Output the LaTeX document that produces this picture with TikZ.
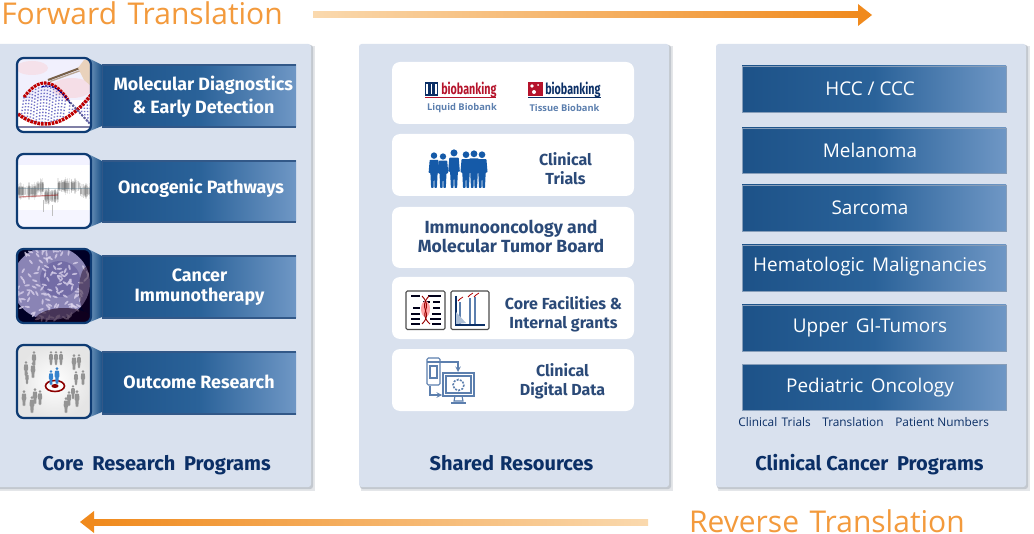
\documentclass[tikz,border=0pt]{standalone}
\usepackage{fontspec}
\usepackage{graphicx}
\setmainfont{Open Sans}
\newfontfamily\hdfam{Fira Sans}
\usetikzlibrary{calc,shadings}
\definecolor{panel}{HTML}{D9E1EE}
\definecolor{shad}{HTML}{C3C8CF}
\definecolor{navy}{HTML}{0B2F66}
\definecolor{frameb}{HTML}{0E3B73}
\definecolor{bdark}{HTML}{1D5288}
\definecolor{bmid}{HTML}{2A6299}
\definecolor{blight}{HTML}{6F97C5}
\definecolor{org}{HTML}{F08A1D}
\definecolor{orgl}{HTML}{FAD9AE}
\definecolor{orgt}{HTML}{F39A3C}
\definecolor{slate}{HTML}{2B4A78}
\definecolor{icon}{HTML}{5C7FAE}
\definecolor{peop}{HTML}{155AA8}
\definecolor{logored}{HTML}{B5132B}
\definecolor{cellbase}{HTML}{8A84B5}
\definecolor{cellmid}{HTML}{736CA6}
\definecolor{cellflake}{HTML}{DDD5EE}
\newcommand{\fs}[1]{\fontsize{#1}{#1}\selectfont}
\tikzset{
  x=0.75pt,y=-0.75pt,
  panelbox/.style={fill=panel,draw=none,rounded corners=2pt},
  shadowbox/.style={fill=shad,draw=none,rounded corners=2pt},
  banner/.style={left color=bdark,right color=blight,middle color=bmid,draw=none},
  bannerline/.style={draw=frameb!85,line width=0.8pt},
  whitebox/.style={fill=white,draw=none,rounded corners=6pt},
  thumbframe/.style={draw=frameb,line width=1.7pt,rounded corners=5pt},
  bantext/.style={text=white,font=\hdfam\bfseries\fs{13.4},align=center,inner sep=0pt},
  righttext/.style={text=white,font=\fs{14.2},align=center,inner sep=0pt,anchor=base},
  midtext/.style={text=slate,font=\hdfam\bfseries\fs{12},align=center,inner sep=0pt},
  midbig/.style={text=slate,font=\hdfam\bfseries\fs{13.2},align=center,inner sep=0pt},
  paneltitle/.style={text=navy,font=\hdfam\bfseries\fs{15},inner sep=0pt,anchor=base},
  arrowtitle/.style={text=orgt,font=\fs{22.5},inner sep=0pt},
  small/.style={text=navy,font=\fs{8.9},inner sep=0pt},
  logotext/.style={font=\hdfam\bfseries\fs{11.5},inner sep=0pt},
  logosub/.style={text=icon,font=\bfseries\fs{7},inner sep=0pt},
  iconline/.style={draw=icon,line width=0.8pt,fill=none},
}
% person: x, y (feet centre), height, colour
\newcommand{\persona}[4]{%
  \fill[#4] (#1,#2-#3*0.9) circle[radius=#3*0.09];
  \fill[#4,rounded corners=0.5pt] (#1-#3*0.12,#2-#3*0.78) -- (#1+#3*0.12,#2-#3*0.78)
    -- (#1+#3*0.15,#2-#3*0.42) -- (#1+#3*0.1,#2-#3*0.42) -- (#1+#3*0.08,#2) -- (#1+#3*0.015,#2)
    -- (#1,#2-#3*0.38) -- (#1-#3*0.015,#2) -- (#1-#3*0.08,#2) -- (#1-#3*0.1,#2-#3*0.42)
    -- (#1-#3*0.15,#2-#3*0.42) -- cycle;
}
\begin{document}
\begin{tikzpicture}
\useasboundingbox (0,0) rectangle (1034,534);
\fill[white] (0,0) rectangle (1034,534);

% ---------- panels
\foreach \a/\b in {-4/311,359/669,716/1026}{
  \fill[shad!45] (\a+2,46) rectangle (\b+3.5,490.5);
  \fill[shadowbox] (\a+1,45) rectangle (\b+2,489);
}
\path[panelbox] (-4,44) rectangle (311,487);
\path[panelbox] (359,44) rectangle (669,487);
\path[panelbox] (716,44) rectangle (1026,487);

% ---------- arrows
\node[arrowtitle,anchor=base west] (ftitle) at (1,24.5) {Forward\hspace{2pt} Translation};
\coordinate (fs) at (313,15);
\coordinate (fe) at (872,15);
\path[left color=orgl,right color=org] ($(fs)+(0,-3)$) rectangle ($(fe)+(-14,3)$);
\fill[org] ($(fe)+(-14,-11)$) -- (fe) -- ($(fe)+(-14,11)$) -- cycle;

\node[arrowtitle,anchor=base east] (rtitle) at (965,532.5) {Reverse\hspace{2pt} Translation};
\coordinate (rs) at (648,522);
\coordinate (re) at (80,522);
\path[left color=org,right color=orgl] ($(re)+(14,-3)$) rectangle ($(rs)+(0,3)$);
\fill[org] ($(re)+(14,-11)$) -- (re) -- ($(re)+(14,11)$) -- cycle;

% ---------- left column banners
\foreach \yt/\yb in {65/127,161/222,256/318,352/414}{
  \path[banner] (102,\yt) rectangle (296,\yb);
  \draw[bannerline] (102,\yt) -- (296,\yt);
  \draw[bannerline] (102,\yb) -- (296,\yb);
  \draw[bannerline,line width=0.5pt] (102.5,\yt) -- (102.5,\yb);
}
\foreach \t/\b in {58/132,154/228,249/323,345/418}{
  \path[left color=bmid!70!white,right color=bdark] (90,\t+1) -- (102,\t+7) -- (102,\b-6) -- (90,\b-1) -- cycle;
}
\node[bantext] (b1) at (203.5,97) {Molecular Diagnostics\\[2.5pt]\&\ Early Detection};
\node[bantext] (b2) at (201,188) {Oncogenic Pathways};
\node[bantext] (b3) at (199.5,287.5) {Cancer\\[1.5pt]Immunotherapy};
\node[bantext] (b4) at (199,381.5) {Outcome Research};

% thumb 1: DNA
\begin{scope}
\clip[rounded corners=5pt] (17,58) rectangle (91,132);
\fill[white] (17,58) rectangle (91,132);
\fill[red!10!blue!6!white] (17,58) rectangle (91,100);
\fill[red!25!white,opacity=.3] (32,68) ellipse (16 and 7);
\fill[red!25!white,opacity=.35] (72,88) ellipse (20 and 10);
\foreach \xx in {24,27,...,68}{
  \pgfmathsetmacro\ya{83+0.032*(\xx-45)*(\xx-45)}
  \pgfmathsetmacro\yb{124-0.0137*(\xx-45)*(\xx-45)}
  \draw[blue!60!black!55,line width=1.1pt,dash pattern=on 1pt off 1.4pt] (\xx,\ya) -- (\xx-3,\yb);
}
\foreach \xx in {70,73,...,91}{
  \pgfmathsetmacro\ya{100+(\xx-68)*1.09}
  \pgfmathsetmacro\yb{124-0.0137*(\xx-45)*(\xx-45)}
  \draw[blue!60!black!55,line width=1.1pt,dash pattern=on 1pt off 1.4pt] (\xx,\ya) -- (\xx-1,\yb);
}
\draw[red!75!black,line width=2.3pt,dash pattern=on 2pt off .7pt] plot[domain=24:68,samples=30] (\x,{83+0.032*(\x-45)*(\x-45)});
\draw[blue!55!black,line width=1pt,dash pattern=on 1.5pt off 1pt] plot[domain=40:68,samples=20] (\x+2,{86+0.032*(\x-45)*(\x-45)});
\draw[red!75!black,line width=2.6pt,dash pattern=on 2pt off .7pt] plot[domain=18:91,samples=40] (\x,{124-0.0137*(\x-45)*(\x-45)});
\draw[white!60!blue!60!black,line width=1.5pt,dash pattern=on 1.5pt off 1pt] (68,100) -- (91,125);
\fill[blue!30!black!50] (17,126) rectangle (91,128);
\fill[white,opacity=.7] (17,128) rectangle (91,132);
\draw[black!55!brown!80,line width=1.5pt] (48,80) -- (80,68);
\draw[black!40!brown!50,line width=1pt] (50,81.5) -- (82,70);
\fill[brown!35!white] (78,68) -- (84,60) -- (91,60) -- (91,86) -- (84,80) -- cycle;
\end{scope}
\draw[thumbframe] (17,58) rectangle (91,132);

% thumb 2: gel trace
\begin{scope}
\clip[rounded corners=5pt] (17,154) rectangle (91,228);
\fill[white] (17,154) rectangle (91,228);
\fill[blue!5!white] (17,154) rectangle (91,165);
\fill[blue!4!white] (17,210) rectangle (91,228);
\pgfmathsetseed{11}
\foreach \i in {1,...,320}{
  \pgfmathsetmacro\xx{18+rnd*73}
  \pgfmathsetmacro\cyy{\xx<37?191:(\xx<44?187:(\xx<58?196:(\xx<80?186:191)))}
  \pgfmathsetmacro\hh{3+abs(rand)*abs(rand)*7}
  \draw[black!60,opacity=.13,line width=1.1pt] (\xx,\cyy-\hh) -- (\xx,\cyy+\hh);
}
\draw[cyan!50!black,opacity=.35,line width=.5pt] (19,188) -- (91,188);
\draw[red!60!black,opacity=.45,line width=.9pt] (19,197) -- (58,195);
\draw[black!25,line width=.3pt] (43,200) -- (43,212) (52,205) -- (52,216);
\end{scope}
\draw[thumbframe] (17,154) rectangle (91,228);

% thumb 3: cell
\begin{scope}
\clip[rounded corners=5pt] (17,249) rectangle (91,323);
\fill[black!85!blue] (17,249) rectangle (91,323);
\fill[cellbase] (51,283) ellipse (39 and 37);
\fill[cellmid] (60,279) ellipse (20 and 18);
\pgfmathsetseed{7}
\foreach \i in {1,...,130}{
  \pgfmathsetmacro\ang{rnd*360}
  \pgfmathsetmacro\rr{sqrt(rnd)*39}
  \pgfmathsetmacro\rot{rnd*180}
  \pgfmathsetmacro\cx{51+\rr*cos(\ang)}
  \pgfmathsetmacro\cy{283+\rr*sin(\ang)}
  \fill[cellflake,opacity=.75] (\cx,\cy) ellipse[x radius=2.8,y radius=1,rotate=\rot];
}
\fill[black!80!violet,opacity=.6] (64,322) ellipse (30 and 14);
\fill[black!80!violet,opacity=.45] (88,290) ellipse (9 and 24);
\end{scope}
\draw[thumbframe] (17,249) rectangle (91,323);

% thumb 4: crowd
\begin{scope}
\clip[rounded corners=5pt] (17,345) rectangle (91,418);
\shade[inner color=white,outer color=black!10] (17,345) rectangle (91,418);
\foreach \px/\py/\ph in {34/366/15,51/365/14,56/365/14,61/365/14,74/370/16,79/368/14,26/376/15,33/378/16,27/384/12,24/406/16,35/404/16,32/413/17,40/405/15,66/413/16,73/399/14,69/406/15,77/407/17,76/385/14,83/385/15}{
  \persona{\px}{\py}{\ph}{black!42}
}
\draw[red!55!black,line width=1.2pt,fill=white] (55,386) ellipse (9.5 and 5.5);
\fill[red!55!black] (55,386) ellipse (3.6 and 2);
\persona{51}{385}{15}{cyan!55!blue!85!white}
\persona{57}{384}{17}{cyan!55!blue!85!white}
\end{scope}
\draw[thumbframe] (17,345) rectangle (91,418);

\node[paneltitle] (lt) at (156.5,470.5) {Core\hspace{3pt} Research\hspace{3pt} Programs};

% ---------- middle column
\foreach \t/\b in {62/124,134/196,207/268,277/339,349/411}{
  \path[whitebox] (392,\t) rectangle (634,\b);
}
% logos
\foreach \xx in {425.5,430,434.5}{
  \draw[navy,line width=.9pt] (\xx,83) rectangle ++(3,12);
}
\node[logotext,text=logored,anchor=base west] (l1) at (441,94.5) {\scalebox{.7}[1]{biobanking}};
\draw[logored,line width=1.2pt] (425,97.5) -- (496,97.5);
\node[logosub] (l1s) at (462,108) {Liquid Biobank};
\fill[logored] (528,82) rectangle (543,96);
\fill[white] (532,86) circle[radius=1.8] (538,85) circle[radius=1] (534,92) circle[radius=2];
\node[logotext,text=navy,anchor=base west] (l2) at (545,94.5) {\scalebox{.7}[1]{biobanking}};
\draw[navy,line width=1pt] (528,97.5) -- (601,97.5);
\node[logosub] (l2s) at (564.5,108) {Tissue Biobank};

% people
\foreach \px/\ph in {434/36,443/35,454/39,466/37,474/38,482/37}{
  \persona{\px}{188}{\ph}{peop}
}
\node[midtext] (clin) at (565.5,168.5) {Clinical\\[2.5pt]Trials};

\node[midbig] (io) at (511,236.5) {Immunooncology and\\[1.5pt]Molecular Tumor Board};

% core facility icons
\draw[black!70,fill=white,line width=.8pt,rounded corners=1pt] (406,291) rectangle (445,329.5);
\foreach \ya/\xa/\xb in {296/411/420,296/428/441,302/423/430,302/433/440,308/413/420,308/433/440,314/411/420,314/432/441,319/411/420,324/411/420,324/432/441,319/430/441}{
  \draw[black!90!blue,line width=1pt] (\xa,\ya) -- (\xb,\ya);
}
\fill[red!35!white] (425.5,309) ellipse (4.5 and 8);
\draw[red!60!black,line width=.7pt] (422,296) .. controls (434,309) and (417,312) .. (430,324);
\draw[red!60!black,line width=.7pt] (429,296) .. controls (417,309) and (434,312) .. (422,324);
\draw[black!70,fill=white,line width=.8pt,rounded corners=1pt] (451,291) rectangle (489,329.5);
\draw[navy,line width=.9pt] (456,296) -- (456,325) -- (485,325);
\foreach \xx/\yy in {460/302,470/298,475/297}{ \draw[icon,line width=1pt] (\xx,324) -- (\xx,\yy); }
\fill[icon!50!white] (456,324) -- (456,312) -- (466,323) -- cycle;
\foreach \xx/\yy in {460/301,470/297,476/297}{ \draw[red!70!black,line width=.6pt] (\xx-2,\yy) -- (\xx,\yy-2) -- (\xx+3,\yy-4); }
\node[midtext] (core) at (563.5,314.5) {Core Facilities \&\\[2.5pt]Internal grants};

% digital icon
\draw[iconline,rounded corners=1pt] (427,358) rectangle (440,385);
\draw[iconline] (430,366) rectangle (437,378);
\draw[iconline] (427,362) -- (440,362);
\draw[iconline] (443,373) rectangle (474,396);
\draw[iconline] (446,376) rectangle (471,393);
\draw[iconline,dash pattern=on 1.5pt off 1pt,line width=1.2pt] (458.5,385) circle[radius=5.5];
\draw[iconline] (455,396) -- (454,401) -- (463,401) -- (462,396);
\draw[iconline] (451,403) -- (466,403);
\draw[iconline,->,>=stealth] (440,362) -- (458,362) -- (458,372);
\draw[iconline,->,>=stealth] (430,386) -- (430,395) -- (442,395);
\node[midtext] (dig) at (562.5,381) {Clinical\\[2.5pt]Digital Data};

\node[paneltitle] (mt) at (511.5,470.5) {Shared\hspace{1pt} Resources};

% ---------- right column
\foreach \t/\b/\nm/\cyy/\tx in {66/112/r1/96/{HCC / CCC},128/173/r2/158/{Melanoma},185/231/r3/215/{Sarcoma},245/291/r4/272/{Hematologic\hspace{2pt} Malignancies},305/351/r5/332/{Upper\hspace{2pt} GI-Tumors},364/410/r6/392/{Pediatric\hspace{2pt} Oncology}}{
  \path[banner] (742,\t) rectangle (1006,\b);
  \draw[draw=frameb!50,line width=.3pt] (742,\t) rectangle (1006,\b);
  \node[righttext] (\nm) at (870,\cyy) {\tx};
}
\node[small,anchor=west] (s1) at (738,422) {Clinical\hspace{1pt} Trials};
\node[small,anchor=west] (s2) at (822,422) {Translation};
\node[small,anchor=west] (s3) at (895,422) {Patient Numbers};
\node[paneltitle] (rt) at (869.5,470.5) {Clinical Cancer\hspace{3pt} Programs};
\end{tikzpicture}
\end{document}
